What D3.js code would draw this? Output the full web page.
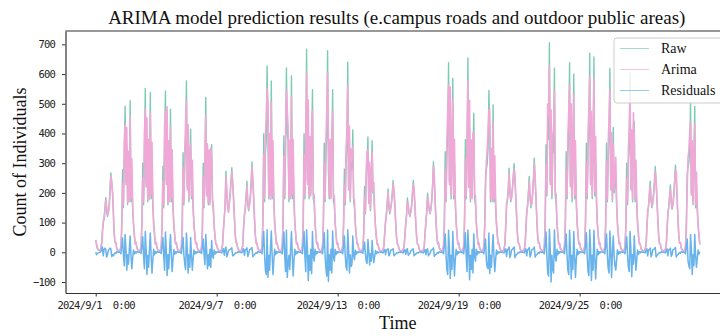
<!DOCTYPE html>
<html>
<head>
<meta charset="utf-8">
<script src="https://cdn.jsdelivr.net/npm/d3@7"></script>
<style>
  html, body { margin: 0; padding: 0; background: #fff; }
  svg { display: block; }
</style>
</head>
<body>
<div class="chart"></div>
<script>
const startDate = "2024-09-01T00:00:00Z";
const tickDates = ["2024-09-01", "2024-09-07", "2024-09-13", "2024-09-19", "2024-09-25"];
const yTicks = [-100, 0, 100, 200, 300, 400, 500, 600, 700];
const seriesNames = ["Raw", "Arima", "Residuals"];

// hourly raw counts, one row per day (2024/9/1 .. 2024/9/30), hours 0..23
const raw = [
  [42, 22, 12, 8, 6, 7, 12, 30, 76, 95, 120, 150, 184, 140, 120, 135, 160, 210, 268, 230, 200, 130, 60, 32],
  [30, 15, 9, 6, 5, 6, 16, 95, 278, 150, 320, 492, 240, 360, 160, 300, 180, 510, 170, 260, 140, 100, 55, 30],
  [32, 16, 9, 6, 5, 7, 18, 110, 300, 160, 345, 552, 230, 378, 170, 330, 190, 537, 180, 300, 150, 100, 58, 30],
  [31, 15, 8, 6, 5, 6, 17, 100, 290, 150, 373, 543, 240, 412, 160, 320, 180, 482, 170, 280, 145, 95, 55, 30],
  [30, 15, 8, 6, 5, 6, 16, 105, 335, 160, 300, 380, 577, 220, 360, 170, 300, 414, 180, 250, 140, 95, 55, 30],
  [30, 15, 8, 6, 5, 6, 15, 90, 300, 150, 280, 521, 200, 310, 160, 300, 170, 300, 362, 170, 140, 90, 52, 28],
  [25, 14, 8, 5, 4, 5, 10, 28, 80, 110, 160, 272, 200, 150, 140, 170, 200, 240, 285, 230, 180, 120, 60, 32],
  [30, 15, 9, 6, 4, 5, 9, 25, 87, 120, 150, 190, 239, 160, 140, 165, 190, 235, 304, 235, 180, 110, 55, 30],
  [28, 14, 8, 6, 5, 6, 18, 120, 399, 170, 330, 380, 627, 423, 180, 340, 190, 577, 180, 300, 160, 105, 58, 30],
  [30, 15, 9, 6, 5, 6, 18, 115, 392, 180, 340, 621, 400, 380, 170, 320, 190, 594, 180, 300, 160, 105, 58, 30],
  [30, 15, 9, 6, 5, 6, 18, 118, 399, 180, 330, 684, 240, 418, 180, 330, 200, 350, 547, 180, 165, 105, 58, 30],
  [30, 15, 9, 6, 5, 6, 18, 112, 367, 170, 320, 400, 679, 270, 180, 320, 190, 330, 547, 170, 160, 105, 58, 30],
  [30, 15, 9, 6, 5, 6, 17, 100, 280, 160, 300, 350, 640, 220, 355, 170, 300, 280, 412, 170, 150, 100, 55, 30],
  [28, 14, 8, 6, 5, 6, 14, 70, 222, 130, 250, 300, 388, 170, 260, 140, 240, 376, 200, 200, 130, 90, 50, 28],
  [26, 13, 8, 5, 4, 5, 8, 22, 71, 100, 130, 170, 213, 150, 130, 150, 170, 200, 242, 198, 160, 100, 52, 28],
  [24, 12, 7, 5, 4, 5, 8, 20, 60, 95, 130, 183, 150, 130, 120, 140, 160, 200, 242, 200, 150, 95, 50, 27],
  [24, 12, 7, 5, 4, 5, 8, 22, 65, 100, 140, 199, 160, 140, 130, 150, 180, 230, 305, 240, 170, 105, 52, 28],
  [30, 15, 9, 6, 5, 6, 18, 115, 339, 170, 320, 400, 638, 240, 468, 180, 320, 586, 180, 300, 160, 105, 58, 30],
  [30, 15, 9, 6, 5, 6, 18, 115, 379, 180, 330, 654, 230, 420, 170, 320, 190, 330, 468, 180, 160, 105, 58, 30],
  [30, 15, 9, 6, 5, 6, 16, 100, 260, 278, 300, 350, 545, 409, 170, 300, 180, 496, 170, 260, 150, 100, 55, 30],
  [28, 14, 8, 5, 4, 5, 10, 30, 90, 155, 180, 210, 283, 200, 170, 190, 220, 260, 298, 240, 180, 115, 58, 30],
  [28, 14, 8, 5, 4, 5, 9, 26, 80, 130, 160, 200, 255, 180, 150, 170, 200, 250, 317, 240, 180, 110, 55, 30],
  [30, 15, 9, 6, 5, 6, 18, 120, 362, 190, 429, 380, 706, 240, 380, 180, 330, 350, 620, 190, 165, 105, 58, 30],
  [30, 15, 9, 6, 5, 6, 18, 115, 339, 180, 330, 400, 638, 230, 409, 170, 320, 600, 180, 290, 160, 105, 58, 30],
  [30, 15, 9, 6, 5, 6, 18, 118, 367, 180, 340, 400, 670, 240, 380, 180, 330, 658, 190, 300, 165, 105, 58, 30],
  [30, 15, 9, 6, 5, 6, 17, 110, 367, 170, 318, 380, 619, 220, 318, 170, 420, 200, 230, 260, 155, 100, 56, 30],
  [30, 15, 9, 6, 5, 6, 16, 100, 300, 160, 300, 350, 604, 220, 330, 170, 430, 440, 170, 250, 150, 100, 55, 30],
  [28, 14, 8, 5, 4, 5, 9, 26, 85, 130, 160, 200, 239, 170, 150, 170, 200, 240, 289, 230, 175, 110, 55, 30],
  [28, 14, 8, 5, 4, 5, 9, 25, 80, 125, 155, 190, 227, 165, 145, 165, 195, 240, 293, 250, 180, 110, 55, 30],
  [30, 15, 9, 6, 5, 6, 16, 100, 260, 289, 300, 350, 502, 200, 300, 160, 300, 491, 150, 220, 140, 95, 55, 28]
];

// hourly residuals (raw - arima), same layout
const resid = [
  [0, -8, -4, -2, -1, 0, 2, 8, 18, -12, 10, 14, 10, -16, -8, 6, 10, 14, 12, -14, -8, -12, -6, -2],
  [-4, 3, 1, 0, 1, -1, -5, 22, 48, -10, -45, 60, 12, -60, -8, -40, 10, 55, -12, -55, -20, 8, -6, 2],
  [-3, 2, 1, 0, 1, -1, -4, 25, 52, -12, -55, 70, 10, -75, -10, -50, 12, 65, -15, -70, -25, 10, -8, 3],
  [-3, 2, 1, 0, 1, -1, -4, 22, 50, -10, -60, 68, 12, -78, -8, -55, 10, 60, -12, -65, -22, 9, -7, 2],
  [-3, 2, 1, 0, 1, -1, -4, 24, 50, -10, -40, -58, 65, 10, -70, -8, -50, 50, -10, -60, -20, 8, -6, 2],
  [-3, 2, 1, 0, 1, -1, -4, 20, 45, -8, -42, 60, 10, -55, -8, -45, 10, -50, 40, -12, -20, 8, -6, 2],
  [-2, 2, 1, 0, 0, -1, -2, 6, 12, -10, 10, 18, -15, -8, 6, 8, 10, 12, 15, -12, -10, -8, -4, -1],
  [-2, 2, 1, 0, 0, -1, -2, 5, 12, -10, 8, 10, 15, -14, -6, 8, 10, 12, 16, -15, -10, -8, -4, -1],
  [-3, 2, 1, 0, 1, -1, -5, 28, 70, -12, -60, -75, 76, -85, -10, -60, 12, 72, -12, -75, -25, 10, -8, 3],
  [-3, 2, 1, 0, 1, -1, -5, 26, 68, -12, -65, 74, -85, -40, -10, -58, 10, 70, -15, -80, -25, 10, -8, 3],
  [-3, 2, 1, 0, 1, -1, -5, 27, 70, -12, -65, 76, 12, -95, -10, -60, 10, -72, 70, -15, -30, 10, -8, 3],
  [-3, 2, 1, 0, 1, -1, -5, 25, 66, -10, -55, -80, 75, -98, -8, -60, 10, -70, 72, -15, -30, 10, -8, 3],
  [-3, 2, 1, 0, 1, -1, -5, 22, 55, -10, -50, -60, 76, 10, -70, -8, -48, -40, 55, -12, -25, 8, -7, 2],
  [-2, 2, 1, 0, 1, -1, -3, 15, 35, -6, -30, -38, 43, 6, -43, -5, -30, 40, -8, -35, -15, 6, -5, 2],
  [-2, 1, 1, 0, 0, -1, -2, 4, 10, -8, 7, 9, 12, -12, -6, 6, 8, 10, 12, -12, -8, -6, -3, -1],
  [-2, 1, 1, 0, 0, -1, -2, 4, 9, -7, 7, 12, -10, -6, -4, 5, 7, 9, 12, -12, -8, -6, -3, -1],
  [-2, 1, 1, 0, 0, -1, -2, 4, 10, -8, 8, 12, -12, -6, -4, 6, 8, 10, 15, -14, -9, -7, -3, -1],
  [-3, 2, 1, 0, 1, -1, -5, 26, 62, -10, -60, -75, 74, 12, -88, -10, -58, 70, -12, -80, -25, 10, -8, 3],
  [-3, 2, 1, 0, 1, -1, -5, 26, 66, -12, -65, 75, 12, -92, -10, -58, 10, -70, 62, -15, -30, 10, -8, 3],
  [-3, 2, 1, 0, 1, -1, -5, 22, 45, -30, -50, -55, 65, -72, -10, -50, 10, 60, -12, -65, -25, 8, -7, 2],
  [-2, 2, 1, 0, 0, -1, -2, 6, 12, -14, 8, 10, 18, -18, -8, 8, 10, 14, 18, -18, -10, -8, -4, -1],
  [-2, 2, 1, 0, 0, -1, -2, 5, 12, -12, 8, 10, 16, -16, -8, 8, 10, 12, 18, -16, -10, -8, -4, -1],
  [-3, 2, 1, 0, 1, -1, -5, 28, 68, -12, -70, -80, 78, 12, -100, -10, -60, -70, 75, -15, -30, 10, -8, 3],
  [-3, 2, 1, 0, 1, -1, -5, 26, 62, -12, -60, -75, 74, 10, -90, -10, -58, 70, -12, -85, -25, 10, -8, 3],
  [-3, 2, 1, 0, 1, -1, -5, 27, 66, -12, -65, -78, 76, 12, -95, -10, -60, 74, -12, -90, -28, 10, -8, 3],
  [-3, 2, 1, 0, 1, -1, -5, 25, 62, -10, -55, -70, 72, 10, -85, -8, 55, -10, -45, -60, -25, 9, -7, 2],
  [-3, 2, 1, 0, 1, -1, -5, 22, 52, -10, -50, -65, 70, 10, -82, -8, -40, 55, -10, -60, -22, 8, -7, 2],
  [-2, 2, 1, 0, 0, -1, -2, 5, 12, -12, 8, 10, 14, -15, -8, 8, 10, 12, 16, -16, -10, -8, -4, -1],
  [-2, 2, 1, 0, 0, -1, -2, 5, 12, -12, 8, 10, 14, -14, -8, 8, 10, 12, 16, -16, -10, -8, -4, -1],
  [-3, 2, 1, 0, 1, -1, -5, 22, 45, -30, -45, -55, 60, 8, -75, -8, -45, 60, -10, -50, -20, 8, -6, 2]
];

const colours = { Raw: "#7ccbb4", Arima: "#f0a8d7", Residuals: "#68b3ec" };
const strokeWidths = { Raw: 1.4, Arima: 1.6, Residuals: 1.5 };
const serif = "'Times New Roman', 'Liberation Serif', serif";
const mono = "'DejaVu Sans Mono', monospace";

const width = 720;
const height = 336;
const plot = { left: 65.5, right: 730, top: 31, bottom: 293 };
const hour = 3600 * 1000;

const t0 = new Date(startDate);
const points = raw.flatMap((day, d) =>
  day.map((v, h) => ({
    t: new Date(t0.getTime() + (d * 24 + h) * hour),
    raw: v,
    resid: resid[d][h],
    arima: v - resid[d][h],
  }))
);

const svg = d3
  .select(".chart")
  .append("svg")
  .attr("width", width)
  .attr("height", height);

// matplotlib-like 5% margins round the data
const span = points[points.length - 1].t - points[0].t;
const xScale = d3
  .scaleUtc()
  .domain([new Date(+points[0].t - span * 0.05), new Date(+points[points.length - 1].t + span * 0.05)])
  .range([plot.left, plot.right]);

const yScale = d3.scaleLinear().domain([-137, 745]).range([plot.bottom, plot.top]);

svg
  .append("clipPath")
  .attr("id", "clip")
  .append("rect")
  .attr("x", plot.left)
  .attr("y", plot.top)
  .attr("width", plot.right - plot.left)
  .attr("height", plot.bottom - plot.top);

const lines = svg.append("g").attr("clip-path", "url(#clip)");

const keys = { Raw: "raw", Arima: "arima", Residuals: "resid" };
seriesNames.forEach((name) => {
  const line = d3
    .line()
    .x((d) => xScale(d.t))
    .y((d) => yScale(d[keys[name]]));
  lines
    .append("path")
    .datum(points)
    .attr("fill", "none")
    .attr("stroke", colours[name])
    .attr("stroke-width", strokeWidths[name])
    .attr("stroke-linejoin", "round")
    .attr("d", line);
});

// Axes
const xAxis = svg
  .append("g")
  .attr("transform", `translate(0, ${plot.bottom})`)
  .call(
    d3
      .axisBottom(xScale)
      .tickValues(tickDates.map((d) => new Date(d + "T00:00:00Z")))
      .tickFormat(d3.utcFormat("%Y/%-m/%-d  %-H:%M"))
      .tickSize(3.5)
      .tickSizeOuter(0)
      .tickPadding(5)
  );

const yAxis = svg
  .append("g")
  .attr("transform", `translate(${plot.left}, 0)`)
  .call(d3.axisLeft(yScale).tickValues(yTicks).tickSize(3.5).tickSizeOuter(0).tickPadding(7));

[xAxis, yAxis].forEach((g) => {
  g.select(".domain").attr("stroke", "#333").attr("stroke-width", 1.2);
  g.selectAll(".tick line").attr("stroke", "#333");
  g.selectAll(".tick text")
    .attr("fill", "#222")
    .attr("font-family", mono)
    .attr("font-size", "10.5px")
    .attr("letter-spacing", "-0.8px")
    .style("white-space", "pre");
});

svg
  .append("line")
  .attr("x1", plot.left)
  .attr("x2", plot.right)
  .attr("y1", plot.top)
  .attr("y2", plot.top)
  .attr("stroke", "#333")
  .attr("stroke-width", 1.2);

// Titles
svg
  .append("text")
  .attr("x", (plot.left + plot.right) / 2 - 1)
  .attr("y", 24)
  .attr("text-anchor", "middle")
  .attr("font-family", serif)
  .attr("font-size", "19px")
  .attr("fill", "#111")
  .text("ARIMA model prediction results (e.campus roads and outdoor public areas)");

svg
  .append("text")
  .attr("x", (plot.left + plot.right) / 2)
  .attr("y", 329)
  .attr("text-anchor", "middle")
  .attr("font-family", serif)
  .attr("font-size", "18px")
  .attr("fill", "#111")
  .text("Time");

svg
  .append("text")
  .attr("transform", `translate(26, ${(plot.top + plot.bottom) / 2}) rotate(-90)`)
  .attr("text-anchor", "middle")
  .attr("font-family", serif)
  .attr("font-size", "18px")
  .attr("fill", "#111")
  .text("Count of Individuals");

// Legend
const legend = svg.append("g").attr("transform", "translate(614, 38)");
legend
  .append("rect")
  .attr("width", 112)
  .attr("height", 65)
  .attr("rx", 3)
  .attr("fill", "#fff")
  .attr("fill-opacity", 0.8)
  .attr("stroke", "#ccc");

seriesNames.forEach((name, i) => {
  const y = 10.5 + i * 21;
  legend
    .append("line")
    .attr("x1", 6)
    .attr("x2", 35)
    .attr("y1", y)
    .attr("y2", y)
    .attr("stroke", colours[name])
    .attr("stroke-opacity", 0.7)
    .attr("stroke-width", 1);
  legend
    .append("text")
    .attr("x", 47)
    .attr("y", y)
    .attr("dy", "0.35em")
    .attr("font-family", serif)
    .attr("font-size", "14px")
    .attr("fill", "#111")
    .text(name);
});
</script>
</body>
</html>
